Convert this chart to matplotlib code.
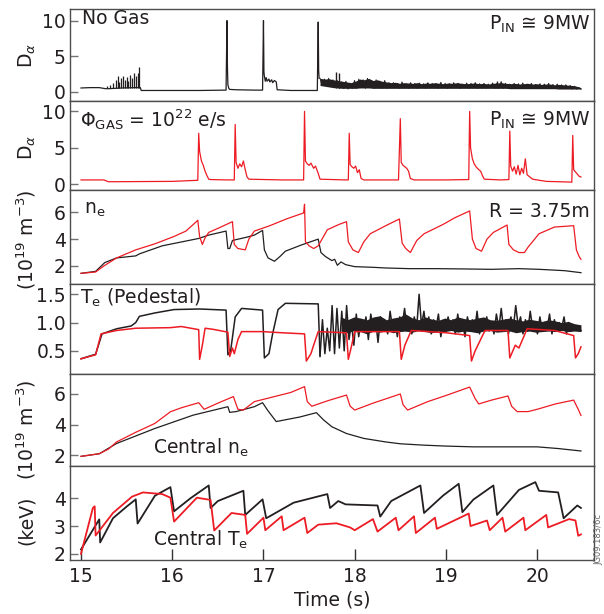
import numpy as np
import matplotlib
matplotlib.use("Agg")
import matplotlib.pyplot as plt

plt.rcParams['font.family'] = ['DejaVu Sans']
plt.rcParams['mathtext.fontset'] = 'dejavusans'

BLACK = '#231f20'
RED = '#ed1c24'

# ---- panel 1: D-alpha, no gas (time, value) ----
dalpha_nogas = [(15.0, 0.55), (15.1, 0.6), (15.2, 0.6), (15.27, 0.45), (15.3, 0.45),
                (15.45, 0.55), (15.6, 0.6), (15.65, 0.6), (15.66, 0.2), (16.0, 0.2),
                (16.3, 0.2), (16.59, 0.25), (16.6, 10.0), (16.605, 3.5), (16.61, 1.0),
                (16.62, 0.5), (16.63, 0.35), (16.7, 0.3), (16.9, 0.25), (16.99, 0.25),
                (17.0, 10.0), (17.005, 2.8), (17.01, 2.2), (17.02, 1.5), (17.03, 2.0),
                (17.04, 1.5), (17.06, 1.8), (17.07, 1.4), (17.09, 1.7), (17.1, 1.3),
                (17.12, 1.6), (17.14, 1.4), (17.15, 0.3), (17.3, 0.2), (17.59, 0.2),
                (17.6, 9.8), (17.605, 3.0), (17.61, 1.9)]
elm_t = [15.29, 15.32, 15.35, 15.38, 15.40, 15.42, 15.44, 15.46, 15.48,
         15.50, 15.52, 15.54, 15.56, 15.58, 15.60, 15.62, 15.64]
elm_h = [0.8, 1.0, 1.2, 1.6, 2.2, 1.4, 2.0, 2.3, 1.7, 2.1, 1.5, 2.4, 2.0, 2.6, 2.3, 2.7, 3.5]
late_spike_t = [17.79, 17.83, 19.56]
late_spike_h = [2.8, 2.6, 1.5]
nogas_tail = [1.9, 0.9, 1.8, 0.8, 1.9, 0.7, 1.7, 0.6, 1.6, 0.5,
              1.4, 0.5, 1.5, 0.4, 1.2, 0.5, 1.6, 0.5, 1.8, 0.6, 1.7, 0.5,
              1.9, 0.6, 1.5, 0.5, 1.7, 0.6, 1.4, 0.5, 1.6, 0.5, 1.3, 0.6,
              1.3, 0.6, 1.2, 0.5, 1.4, 0.6, 1.1, 0.5, 1.3, 0.6, 1.2, 0.5,
              1.25, 0.6, 1.15, 0.5, 1.3, 0.6, 1.2, 0.55, 1.1, 0.5, 1.35, 0.6,
              1.2, 0.5, 1.15, 0.6, 1.3, 0.55, 1.2, 0.5, 1.1, 0.6, 1.25, 0.5,
              1.2, 0.6, 1.3, 0.5, 1.15, 0.55, 1.2, 0.5, 1.1, 0.6, 1.25, 0.5,
              1.2, 0.55, 1.45, 0.5, 1.2, 0.6, 1.1, 0.5, 1.2, 0.55, 1.15, 0.5,
              1.25, 0.5, 1.1, 0.55, 1.2, 0.5, 1.05, 0.5, 1.15, 0.45, 1.1, 0.5,
              1.2, 0.45, 1.05, 0.5, 1.1, 0.45, 1.0, 0.45,
              1.0, 0.5, 0.9, 0.4, 0.8, 0.4, 0.6, 0.4]
nogas_band_hi = [1.9, 1.8, 1.85, 1.7, 1.6, 1.5, 1.4, 1.3, 1.5, 1.8, 1.7, 1.9, 1.6, 1.7,
                 1.5, 1.4, 1.3, 1.35, 1.2, 1.3, 1.25, 1.2, 1.3, 1.15, 1.25, 1.2, 1.3,
                 1.2, 1.15, 1.25, 1.2, 1.3, 1.2, 1.15, 1.2, 1.25, 1.15, 1.2, 1.1, 1.2,
                 1.25, 1.3, 1.2, 1.15, 1.2, 1.1, 1.15, 1.2, 1.1, 1.15, 1.05, 1.1, 1.1,
                 1.0, 1.05, 1.0, 0.95, 0.9, 0.8, 0.6]
nogas_band_lo = [0.9, 0.8, 0.7, 0.6, 0.55, 0.5, 0.5, 0.5, 0.5, 0.55, 0.55, 0.55, 0.5,
                 0.5, 0.5, 0.5, 0.5, 0.5, 0.5, 0.5, 0.5, 0.5, 0.5, 0.5, 0.5, 0.5, 0.5,
                 0.5, 0.5, 0.5, 0.5, 0.5, 0.5, 0.5, 0.5, 0.5, 0.5, 0.5, 0.5, 0.5, 0.5,
                 0.5, 0.5, 0.45, 0.45, 0.45, 0.45, 0.45, 0.45, 0.45, 0.45, 0.45, 0.45,
                 0.45, 0.4, 0.4, 0.4, 0.4, 0.4, 0.4]

# ---- panel 2: D-alpha with gas ----
dalpha_gas = [(15.0, 0.6), (15.25, 0.6), (15.3, 0.35), (16.0, 0.4), (16.28, 0.55),
              (16.29, 7.0), (16.30, 4.5), (16.32, 3.2), (16.34, 2.6), (16.36, 1.8),
              (16.38, 1.2), (16.40, 0.7), (16.42, 0.65), (16.6, 0.6), (16.68, 0.6),
              (16.69, 8.2), (16.70, 3.0), (16.72, 2.2), (16.74, 2.8), (16.76, 2.4),
              (16.78, 3.2), (16.80, 2.0), (16.82, 1.0), (16.84, 0.7), (17.2, 0.6),
              (17.44, 0.6), (17.45, 10.0), (17.46, 3.2), (17.48, 2.8), (17.50, 2.6),
              (17.52, 2.9), (17.55, 2.2), (17.57, 2.5), (17.60, 1.5), (17.62, 0.7),
              (17.9, 0.6), (17.93, 0.6), (17.94, 7.0), (17.95, 2.7), (17.97, 2.4),
              (17.99, 2.2), (18.01, 2.5), (18.03, 1.6), (18.05, 2.0), (18.07, 0.8),
              (18.1, 0.6), (18.48, 0.6), (18.50, 9.0), (18.51, 3.0), (18.53, 2.6),
              (18.55, 2.4), (18.57, 2.2), (18.59, 1.8), (18.61, 0.8), (18.65, 0.6),
              (19.0, 0.6), (19.25, 0.65), (19.26, 10.0), (19.27, 5.0), (19.29, 3.5),
              (19.31, 2.8), (19.33, 2.4), (19.36, 2.0), (19.38, 1.8), (19.40, 1.2),
              (19.42, 0.7), (19.6, 0.6), (19.69, 0.65), (19.70, 7.3), (19.71, 2.5),
              (19.73, 1.8), (19.75, 2.4), (19.77, 1.4), (19.79, 2.6), (19.81, 1.3),
              (19.83, 2.2), (19.85, 1.5), (19.87, 3.5), (19.89, 1.3), (19.92, 1.0),
              (19.95, 0.7), (20.1, 0.4), (20.38, 0.3), (20.39, 6.7), (20.40, 2.0),
              (20.42, 1.7), (20.44, 1.4), (20.46, 1.1), (20.48, 1.0)]

# ---- panel 3: edge density, R = 3.75 m ----
ne_edge_gas = [(15.0, 1.45), (15.16, 1.55), (15.25, 2.0), (15.39, 2.6), (15.6, 3.2),
               (15.81, 3.65), (16.02, 4.2), (16.15, 4.6), (16.28, 5.4), (16.30, 4.2),
               (16.33, 3.6), (16.36, 4.1), (16.40, 4.5), (16.50, 4.8), (16.66, 5.3),
               (16.68, 3.6), (16.72, 3.3), (16.80, 3.2), (16.84, 4.0), (16.90, 4.6),
               (17.07, 5.0), (17.25, 5.5), (17.44, 5.95), (17.45, 6.6), (17.46, 3.8),
               (17.50, 3.5), (17.55, 3.3), (17.60, 3.5), (17.70, 4.7), (17.83, 5.1),
               (17.91, 5.3), (17.93, 3.8), (17.98, 3.2), (18.04, 3.0), (18.10, 3.8),
               (18.17, 4.4), (18.34, 5.0), (18.49, 5.5), (18.52, 3.7), (18.56, 3.3),
               (18.61, 3.0), (18.68, 3.9), (18.76, 4.4), (18.97, 5.1), (19.1, 5.6),
               (19.26, 6.1), (19.29, 4.0), (19.33, 3.3), (19.39, 3.1), (19.45, 4.0),
               (19.52, 4.5), (19.67, 5.05), (19.69, 3.6), (19.74, 3.2), (19.80, 3.0),
               (19.86, 3.0), (19.90, 3.4), (20.02, 4.4), (20.19, 4.9), (20.40, 5.0),
               (20.43, 3.2), (20.46, 2.7), (20.48, 2.5)]
ne_edge_nogas = [(15.0, 1.45), (15.16, 1.6), (15.26, 2.25), (15.39, 2.6), (15.60, 2.75),
                 (15.64, 2.9), (15.89, 3.5), (16.29, 4.05), (16.40, 4.3), (16.59, 4.6),
                 (16.61, 3.3), (16.63, 3.3), (16.66, 3.9), (16.82, 4.15), (16.90, 4.3),
                 (16.99, 4.65), (17.01, 3.2), (17.05, 2.6), (17.12, 2.35), (17.18, 2.7),
                 (17.24, 3.1), (17.41, 3.55), (17.60, 4.0), (17.63, 3.0), (17.68, 2.7),
                 (17.75, 2.4), (17.78, 2.5), (17.81, 2.05), (17.85, 2.3), (17.9, 2.1),
                 (18.0, 1.95), (18.2, 1.9), (18.34, 1.85), (18.6, 1.8), (18.9, 1.8),
                 (19.18, 1.78), (19.5, 1.75), (19.8, 1.8), (20.02, 1.75), (20.3, 1.65),
                 (20.48, 1.5)]

# ---- panel 4: pedestal Te ----
te_ped_gas = [(15.0, 0.36), (15.16, 0.43), (15.22, 0.80), (15.39, 0.86), (15.60, 0.90),
              (15.98, 0.91), (16.1, 0.93), (16.29, 0.875), (16.30, 0.35), (16.33, 0.6),
              (16.36, 0.9), (16.45, 0.88), (16.61, 0.83), (16.63, 0.4), (16.66, 0.55),
              (16.68, 0.45), (16.72, 0.7), (16.76, 0.84), (16.99, 0.84), (17.2, 0.82),
              (17.45, 0.80), (17.47, 0.32), (17.52, 0.45), (17.55, 0.6), (17.60, 0.84),
              (17.91, 0.82), (17.93, 0.35), (17.96, 0.55), (18.0, 0.84), (18.49, 0.84),
              (18.51, 0.35), (18.55, 0.6), (18.62, 0.86), (19.0, 0.82), (19.26, 0.77),
              (19.28, 0.32), (19.32, 0.5), (19.41, 0.8), (19.43, 0.86), (19.68, 0.86),
              (19.70, 0.375), (19.76, 0.6), (19.80, 0.55), (19.89, 0.89), (20.19, 0.86),
              (20.40, 0.77), (20.42, 0.375), (20.45, 0.45), (20.48, 0.57)]
te_ped_nogas = [(15.0, 0.36), (15.16, 0.44), (15.23, 0.80), (15.39, 0.89), (15.55, 0.94),
                (15.6, 1.0), (15.64, 1.11), (15.81, 1.17), (16.02, 1.23), (16.3, 1.24),
                (16.59, 1.22), (16.61, 0.43), (16.64, 0.5), (16.69, 1.1), (16.76, 1.25),
                (16.99, 1.22), (17.01, 0.375), (17.06, 0.45), (17.1, 0.8), (17.16, 1.23),
                (17.24, 1.34), (17.60, 1.33), (17.62, 0.4)]
te_ped_tail = [0.42, 1.05, 0.45, 0.9, 0.5, 1.3, 0.45, 1.25, 0.55, 1.2, 0.5, 1.3, 0.7, 1.0,
               0.6, 1.15, 0.75, 1.05, 0.85, 1.1, 0.7, 1.15, 0.9, 1.05, 0.65, 1.1, 0.85, 1.0,
               0.8, 1.2, 0.9, 1.05, 0.75, 1.1, 0.95, 1.25, 0.85, 1.05, 0.8, 1.1, 0.9, 1.5,
               0.95, 1.2, 0.85, 1.1, 0.8, 1.05, 0.9, 1.15, 0.75, 1.0, 0.85, 1.1, 0.9, 1.05,
               0.8, 1.15, 0.85, 1.0, 0.75, 1.1, 0.9, 1.05, 0.85, 1.2, 0.8, 1.0, 0.9, 1.1,
               0.85, 1.0, 0.8, 1.15, 0.9, 1.25, 0.85, 1.05, 0.8, 1.1, 0.9, 1.3, 0.95, 1.1,
               0.8, 1.05, 0.85, 1.2, 0.9, 1.0, 0.8, 1.1, 0.85, 1.0, 0.9, 1.15, 0.8, 1.05,
               0.85, 1.0, 0.9, 1.1, 0.8, 1.0, 0.85, 0.95, 0.88, 0.9, 0.86]
te_band_hi = [1.1, 1.05, 1.1, 1.08, 1.05, 1.1, 1.12, 1.05, 1.08, 1.1, 1.15, 1.08, 1.05,
              1.1, 1.06, 1.04, 1.08, 1.05, 1.1, 1.07, 1.05, 1.08, 1.1, 1.05, 1.04, 1.06,
              1.08, 1.05, 1.03, 1.06, 1.04, 1.02, 1.05, 1.03, 1.0, 1.02, 0.98, 0.96]
te_band_lo = [0.85, 0.82, 0.86, 0.84, 0.8, 0.85, 0.83, 0.86, 0.82, 0.84, 0.85, 0.83, 0.86,
              0.84, 0.82, 0.85, 0.84, 0.86, 0.83, 0.85, 0.84, 0.82, 0.85, 0.86, 0.83, 0.84,
              0.85, 0.82, 0.84, 0.85, 0.83, 0.84, 0.85, 0.84, 0.86, 0.84, 0.85, 0.84]

# ---- panel 5: central density ----
ne_core_gas = [(15.0, 1.93), (15.2, 2.1), (15.3, 2.4), (15.39, 2.87), (15.6, 3.5),
               (15.81, 4.08), (15.98, 4.84), (16.1, 5.1), (16.29, 5.43), (16.35, 5.0),
               (16.5, 5.4), (16.67, 5.83), (16.72, 5.0), (16.78, 4.95), (16.90, 5.5),
               (17.1, 5.8), (17.3, 6.1), (17.45, 6.48), (17.48, 5.5), (17.53, 5.2),
               (17.7, 5.55), (17.91, 5.93), (17.95, 5.2), (18.0, 4.95), (18.2, 5.4),
               (18.5, 6.0), (18.53, 5.3), (18.58, 4.95), (18.8, 5.5), (19.0, 5.9),
               (19.26, 6.45), (19.32, 5.7), (19.36, 5.35), (19.5, 5.6), (19.68, 5.87),
               (19.72, 5.2), (19.78, 4.85), (19.9, 4.85), (20.0, 5.0), (20.2, 5.35),
               (20.40, 5.6), (20.45, 5.0), (20.48, 4.6)]
ne_core_nogas = [(15.0, 1.93), (15.2, 2.1), (15.39, 2.77), (15.81, 3.75), (16.23, 4.62),
                 (16.61, 5.17), (16.63, 4.8), (16.70, 4.85), (16.90, 5.17), (16.99, 5.43),
                 (17.05, 4.9), (17.14, 4.2), (17.40, 4.5), (17.58, 4.78), (17.66, 4.3),
                 (17.75, 3.86), (17.91, 3.42), (18.1, 3.1), (18.34, 2.87), (18.5, 2.75),
                 (18.76, 2.66), (19.0, 2.6), (19.3, 2.55), (19.6, 2.55), (20.0, 2.55),
                 (20.23, 2.44), (20.48, 2.28)]

# ---- panel 6: central Te ----
te_core_gas = [(15.0, 2.0), (15.13, 3.65), (15.15, 3.71), (15.16, 2.66), (15.35, 3.47),
               (15.56, 4.06), (15.68, 4.21), (15.89, 4.15), (15.98, 4.02), (16.02, 3.16),
               (16.27, 4.02), (16.42, 3.94), (16.46, 2.84), (16.65, 3.47), (16.80, 3.4),
               (16.82, 2.72), (17.00, 3.3), (17.02, 2.85), (17.20, 3.35), (17.22, 2.85),
               (17.45, 3.3), (17.48, 2.75), (17.6, 3.05), (17.8, 3.1), (17.95, 2.95),
               (18.0, 2.85), (18.2, 3.25), (18.25, 2.8), (18.45, 3.3), (18.48, 2.85),
               (18.65, 3.35), (18.67, 2.75), (18.88, 3.3), (18.9, 2.9), (19.25, 3.45),
               (19.27, 3.0), (19.45, 3.2), (19.48, 2.85), (19.62, 3.3), (19.65, 2.8),
               (19.85, 3.3), (19.87, 2.85), (20.1, 3.4), (20.12, 2.95), (20.35, 3.25),
               (20.42, 3.2), (20.45, 2.65), (20.48, 2.7)]
te_core_nogas = [(15.0, 2.16), (15.1, 2.7), (15.2, 3.24), (15.21, 2.41), (15.35, 3.28),
                 (15.5, 3.7), (15.60, 3.96), (15.62, 3.09), (15.81, 4.09), (15.98, 4.4),
                 (16.02, 3.53), (16.2, 4.0), (16.40, 4.46), (16.42, 3.65), (16.5, 3.9),
                 (16.78, 4.27), (16.80, 3.4), (16.99, 3.96), (17.03, 3.28), (17.33, 3.84),
                 (17.70, 4.15), (17.73, 3.65), (17.82, 3.9), (17.9, 3.78), (18.25, 3.74),
                 (18.28, 3.34), (18.4, 3.9), (18.72, 4.46), (18.76, 3.47), (18.97, 4.1),
                 (19.14, 4.52), (19.18, 3.5), (19.3, 3.95), (19.52, 4.46), (19.56, 3.4),
                 (19.8, 4.3), (19.98, 4.58), (20.02, 4.27), (20.23, 4.21), (20.29, 3.28),
                 (20.44, 3.74), (20.48, 3.65)]

ylims = [(-1.3, 11.6), (-0.8, 11.4), (0.65, 7.65), (0.09, 1.68), (1.3, 7.3), (1.78, 5.16)]
yticks = [[0, 5, 10], [0, 5, 10], [2, 4, 6], [0.5, 1.0, 1.5], [2, 4, 6], [2, 3, 4]]
yticklabels = [None, None, None, ['0.5', '1.0', '1.5'], None, None]
FS = 13.5


def draw(ax, series, color, lw=0.9):
    t, v = zip(*series)
    ax.plot(t, v, color=color, lw=lw)


fig = plt.figure(figsize=(6.04, 6.14), dpi=100)
axes = fig.subplots(6, 1, sharex=True,
                    gridspec_kw=dict(hspace=0, height_ratios=[92, 89, 94, 90, 92, 94]))
fig.subplots_adjust(left=0.116, right=0.983, bottom=0.088, top=0.985)

# panel 1
ax = axes[0]
draw(ax, dalpha_nogas, BLACK)
ax.vlines(elm_t, 0.5, elm_h, color=BLACK, lw=0.9)
tb = np.linspace(17.62, 20.48, len(nogas_band_hi))
ax.fill_between(tb, nogas_band_lo, nogas_band_hi, color=BLACK, lw=0)
ax.plot(np.linspace(17.62, 20.48, len(nogas_tail)), nogas_tail, color=BLACK, lw=0.7)
ax.vlines(late_spike_t, 0.5, late_spike_h, color=BLACK, lw=1.0)

# panel 2
draw(axes[1], dalpha_gas, RED)

# panel 3
draw(axes[2], ne_edge_nogas, BLACK)
draw(axes[2], ne_edge_gas, RED)

# panel 4
ax = axes[3]
draw(ax, te_ped_nogas, BLACK, lw=1.1)
tb = np.linspace(17.85, 20.48, len(te_band_hi))
ax.fill_between(tb, te_band_lo, te_band_hi, color=BLACK, lw=0)
ax.plot(np.linspace(17.62, 20.48, len(te_ped_tail)), te_ped_tail, color=BLACK, lw=1.1)
draw(ax, te_ped_gas, RED, lw=1.1)

# panel 5
draw(axes[4], ne_core_nogas, BLACK)
draw(axes[4], ne_core_gas, RED)

# panel 6
draw(axes[5], te_core_nogas, BLACK, lw=1.3)
draw(axes[5], te_core_gas, RED, lw=1.3)

for i, ax in enumerate(axes):
    ax.set_ylim(*ylims[i])
    ax.set_yticks(yticks[i])
    if yticklabels[i]:
        ax.set_yticklabels(yticklabels[i])
    ax.set_xlim(14.88, 20.62)
    ax.tick_params(axis='y', direction='in', length=6, width=1, color='0.45',
                   labelsize=FS, pad=3, labelcolor='#231f20')
    ax.tick_params(axis='x', direction='in', length=8, width=1, color='0.2',
                   labelsize=FS, pad=5, labelcolor='#231f20')
    for s in ax.spines.values():
        s.set_color('0.3')
        s.set_linewidth(1.0)
    if i < 5:
        ax.tick_params(axis='x', length=0)

axes[5].set_xticks([15, 16, 17, 18, 19, 20])
axes[5].set_xlabel('Time (s)', fontsize=FS, labelpad=3, color='#231f20')

W, H = 604.0, 614.0


def ftext(x, y, s, **kw):
    fig.text(x / W, 1 - y / H, s, fontsize=FS, color='#231f20', **kw)


# y labels
ftext(27, 55, r'D$_{\alpha}$', rotation=90, ha='center', va='center')
ftext(27, 147, r'D$_{\alpha}$', rotation=90, ha='center', va='center')
ftext(26, 240, r'(10$^{19}$ m$^{-3}$)', rotation=90, ha='center', va='center')
ftext(26, 430, r'(10$^{19}$ m$^{-3}$)', rotation=90, ha='center', va='center')
ftext(26, 520, '(keV)', rotation=90, ha='center', va='center')

# annotations
ftext(82, 19, 'No Gas', ha='left', va='center')
ftext(590, 24, r'P$_{\rm IN}$ ≅ 9MW', ha='right', va='center')
ftext(80, 120, r'Φ$_{\rm GAS}$ = 10$^{22}$ e/s', ha='left', va='center')
ftext(590, 120, r'P$_{\rm IN}$ ≅ 9MW', ha='right', va='center')
ftext(84, 210, r'n$_{\rm e}$', ha='left', va='center')
ftext(590, 212, 'R = 3.75m', ha='right', va='center')
ftext(80, 298, r'T$_{\rm e}$ (Pedestal)', ha='left', va='center')
ftext(153, 448, r'Central n$_{\rm e}$', ha='left', va='center')
ftext(153, 540, r'Central T$_{\rm e}$', ha='left', va='center')

fig.text(0.999, 1 - 565 / H, 'JG09.183/6c', rotation=90, fontsize=6,
         color='0.4', ha='right', va='bottom')

fig.savefig('out.png', dpi=100)
